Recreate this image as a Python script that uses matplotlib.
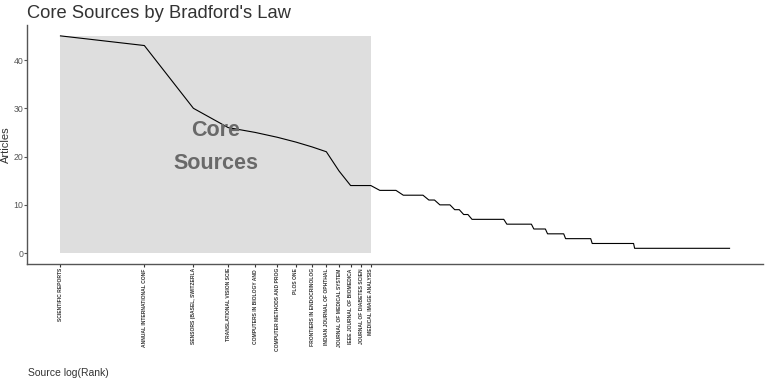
import numpy as np
import matplotlib.pyplot as plt

plt.rcParams['font.family'] = ['Liberation Sans', 'DejaVu Sans']

# core sources (ranks 1..13)
core_sources = ["SCIENTIFIC REPORTS", "ANNUAL INTERNATIONAL CONF", "SENSORS (BASEL, SWITZERLA",
                "TRANSLATIONAL VISION SCIE", "COMPUTERS IN BIOLOGY AND ", "COMPUTER METHODS AND PROG",
                "PLOS ONE", "FRONTIERS IN ENDOCRINOLOG", "INDIAN JOURNAL OF OPHTHAL",
                "JOURNAL OF MEDICAL SYSTEM", "IEEE JOURNAL OF BIOMEDICA", "JOURNAL OF DIABETES SCIEN",
                "MEDICAL IMAGE ANALYSIS"]
core_articles = [45, 43, 30, 26, 25, 24, 23, 22, 21, 17, 14, 14, 14]

# remaining sources: article count and how many sources have it
tail_articles = [13, 12, 11, 10, 9, 8, 7, 6, 5, 4, 3, 2, 1]
tail_n_sources = [3, 4, 2, 3, 2, 2, 10, 10, 6, 9, 16, 34, 138]

freq = np.concatenate([core_articles, np.repeat(tail_articles, tail_n_sources)])
rank = np.arange(1, len(freq) + 1)
x = np.log(rank)
n_core = len(core_articles)

fig = plt.figure(figsize=(7.67, 3.83), dpi=100)
ax = fig.add_axes([0.0352, 0.3107, 0.9596, 0.624])

ax.fill_between([x[0], x[n_core - 1]], 0, max(freq), color='#DEDEDE', lw=0, zorder=0)
ax.plot(x, freq, color='black', lw=0.8)
ax.text((x[0] + x[n_core - 1]) / 2, 22.0, "Core\nSources", ha='center', va='center',
        fontsize=15.5, fontweight='bold', color='#696969', linespacing=1.7)

span = x[-1] - x[0]
ax.set_xlim(x[0] - 0.05 * span, x[-1] + 0.05 * span)
ax.set_ylim(-0.05 * max(freq), max(freq) * 1.05)

ax.set_xticks(x[:n_core])
ax.set_xticklabels(core_sources, rotation=90, fontsize=3.6, fontweight='bold', color='#333333')
ax.set_yticks([0, 10, 20, 30, 40])
ax.tick_params(axis='y', labelsize=6.3, colors='#555555', length=2, pad=0.6)
ax.tick_params(axis='x', length=2.5, colors='#333333', pad=0.5)
for s in ['top', 'right']:
    ax.spines[s].set_visible(False)
for s in ['left', 'bottom']:
    ax.spines[s].set_color('#555555')
    ax.spines[s].set_linewidth(1.0)

ax.set_ylabel("Articles", fontsize=8, color='#333333')
ax.yaxis.set_label_coords(-0.0215, 0.5)
fig.text(0.0365, 0.012, "Source log(Rank)", fontsize=7.5, color='#333333', ha='left', va='bottom')
fig.text(0.0352, 0.965, "Core Sources by Bradford's Law", fontsize=13.2, color='#333333', ha='left', va='center')

fig.savefig('out.png', dpi=100)
